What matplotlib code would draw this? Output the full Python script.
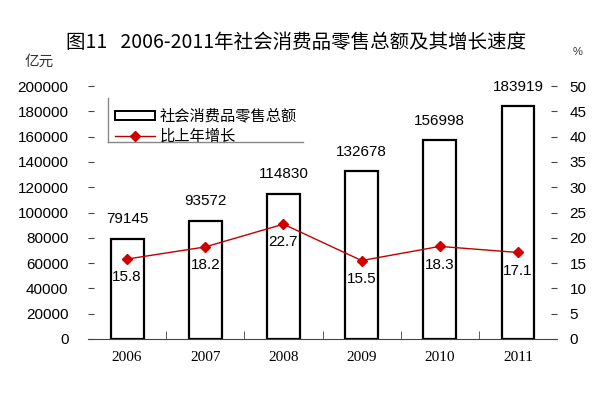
import matplotlib
matplotlib.use("Agg")
import matplotlib.pyplot as plt
from matplotlib.lines import Line2D
from matplotlib.patches import Rectangle

plt.rcParams['font.family'] = ['Liberation Sans', 'Noto Sans CJK SC', 'DejaVu Sans']

years = ['2006', '2007', '2008', '2009', '2010', '2011']
sales = [79145, 93572, 114830, 132678, 156998, 183919]
growth = [15.8, 18.2, 22.7, 15.5, 18.3, 17.1]

cjk = ['Noto Sans CJK SC', 'DejaVu Sans']
red = '#c00000'

fig = plt.figure(figsize=(6, 3.94), dpi=100)
ax = fig.add_axes([0.1467, 0.1396, 0.7817, 0.6421])
ax2 = ax.twinx()

x = list(range(len(years)))
ax.bar(x, sales, width=0.42, facecolor='white', edgecolor='black', linewidth=1.6, zorder=2)
ax.set_xlim(-0.5, len(years) - 0.5)
ax.set_ylim(0, 200000)
ax.set_yticks(range(0, 200001, 20000))
for xi, v in zip(x, sales):
    ax.annotate(str(v), (xi, v), xytext=(0, 9), textcoords='offset points',
                ha='center', va='bottom', fontsize=11, clip_on=False)

ax2.plot(x, growth, color=red, lw=1.0, marker='D', markersize=5,
         markerfacecolor='#d00000', markeredgecolor='#d00000', zorder=3)
ax2.set_ylim(0, 50)
ax2.set_yticks(range(0, 51, 5))
for xi, v in zip(x, growth):
    ax2.annotate(str(v), (xi, v), xytext=(0, -8), textcoords='offset points',
                 ha='center', va='top', fontsize=11)

for a in (ax, ax2):
    for s in ('top', 'left', 'right'):
        a.spines[s].set_visible(False)
ax.spines['bottom'].set_color('#444444')
ax2.spines['bottom'].set_visible(False)

ax.tick_params(axis='y', direction='in', length=4, pad=14, labelsize=11, color='#444444')
ax2.tick_params(axis='y', direction='in', length=4, pad=9, labelsize=11, color='#444444')
ax.set_xticks(x)
ax.set_xticklabels(years, fontfamily='Liberation Serif', fontsize=11)
ax.tick_params(axis='x', length=0, pad=9)
ax.set_xticks([i + 0.5 for i in x[:-1]], minor=True)
ax.tick_params(axis='x', which='minor', direction='in', length=6, color='#444444')

fig.text(0.493, 0.893, '图11   2006-2011年社会消费品零售总额及其增长速度',
         ha='center', va='center', fontsize=14, family=cjk)
fig.text(0.065, 0.843, '亿元', ha='center', va='center', fontsize=10.5, family=cjk, color='#333333')
fig.text(0.962, 0.868, '%', ha='center', va='center', fontsize=8, color='#333333')

# legend
handles = [Rectangle((0, 0), 1, 1, facecolor='white', edgecolor='black', linewidth=1.4),
           Line2D([], [], color=red, lw=1.0, marker='D', markersize=5,
                  markerfacecolor='#d00000', markeredgecolor='#d00000')]
leg = fig.legend(handles, ['社会消费品零售总额', '比上年增长'],
                 loc='upper left', bbox_to_anchor=(0.182, 0.742), frameon=False,
                 prop={'family': cjk, 'size': 11}, handlelength=2.6,
                 handleheight=0.6, labelspacing=0.2, handletextpad=0.3,
                 borderaxespad=0)
fig.add_artist(Line2D([0.18, 0.18], [0.64, 0.752], color='#888888', lw=1))
fig.add_artist(Line2D([0.18, 0.505], [0.64, 0.64], color='#888888', lw=1))

fig.savefig('out.png', dpi=100)
